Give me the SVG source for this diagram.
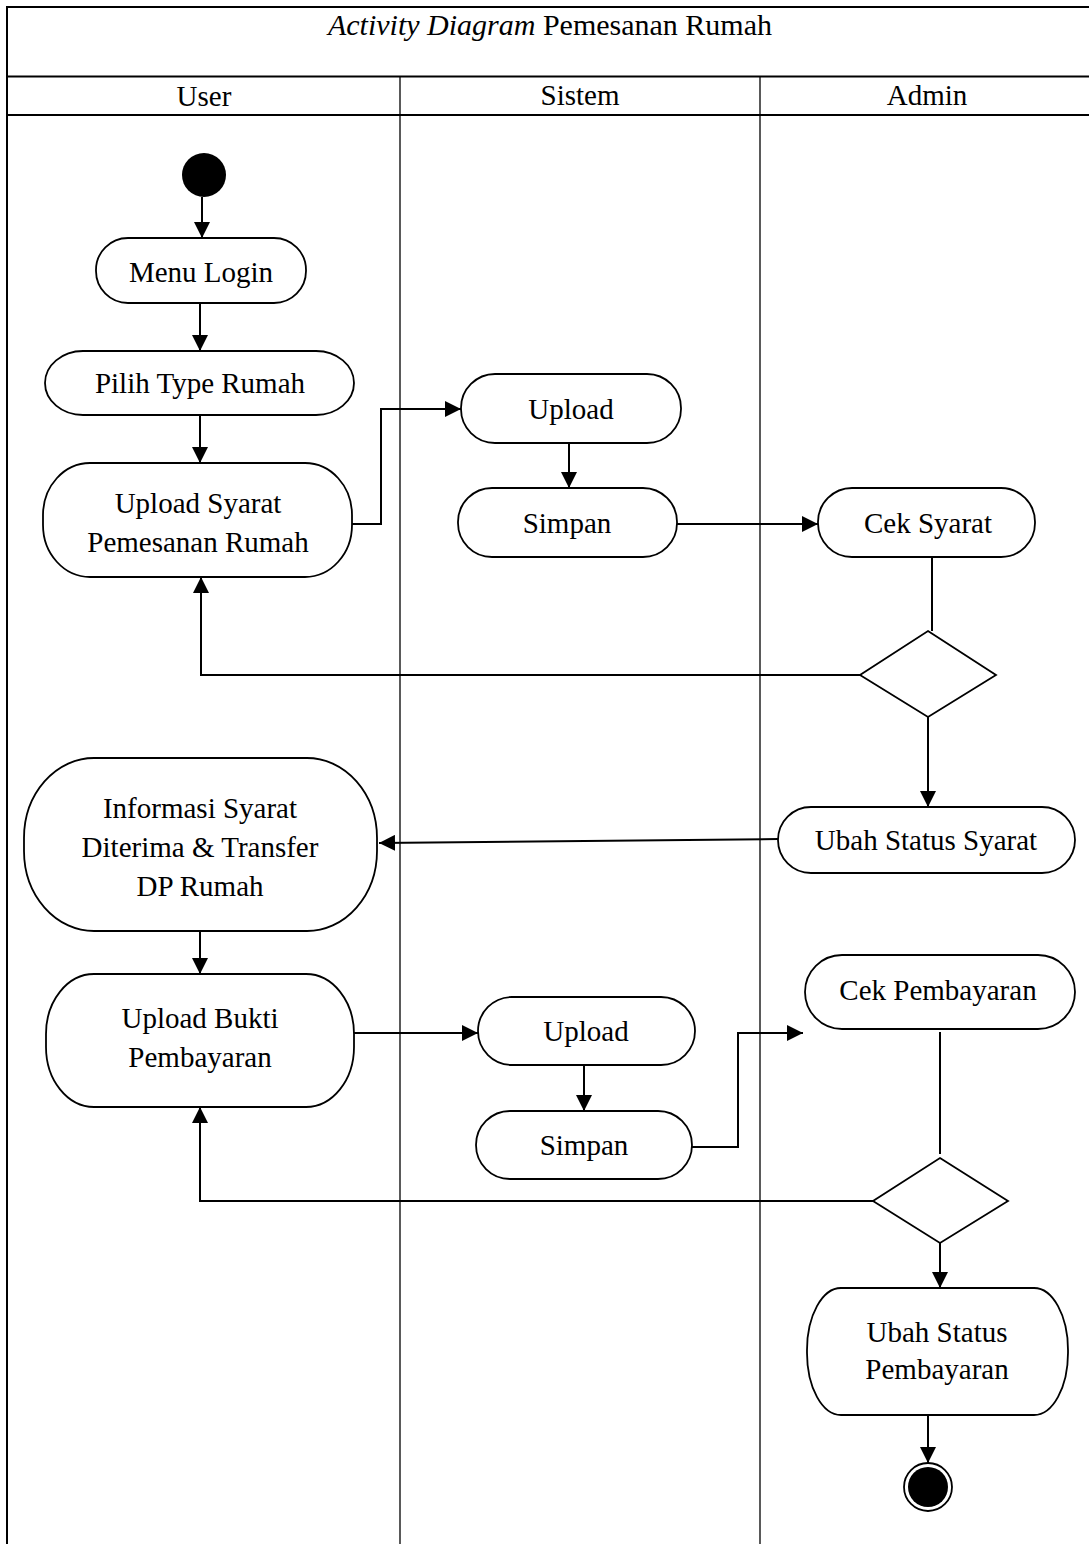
<svg xmlns="http://www.w3.org/2000/svg" width="1089" height="1544" viewBox="0 0 1089 1544">
  <defs>
    <marker id="arrow" markerUnits="userSpaceOnUse" markerWidth="16" markerHeight="16" refX="16" refY="8" orient="auto">
      <path d="M0,0 L16,8 L0,16 Z" fill="#000"/>
    </marker>
    <style>
      .frame { stroke: #000; stroke-width: 2; fill: none; }
      .lane { stroke: #000; stroke-width: 1.3; fill: none; }
      .node { fill: #fff; stroke: #000; stroke-width: 1.8; }
      .edge { fill: none; stroke: #000; stroke-width: 2; }
      .arr { marker-end: url(#arrow); }
      text { font-family: "Liberation Serif", "Times New Roman", serif; font-size: 29px; fill: #000; text-anchor: middle; }
      .title { font-size: 30px; }
    </style>
  </defs>
  <rect width="1089" height="1544" fill="#fff"/>

  <!-- swimlane frame -->
  <g id="swimlanes">
    <line class="frame" x1="6" y1="7" x2="1089" y2="7"/>
    <line class="frame" x1="7" y1="6" x2="7" y2="1544"/>
    <line class="frame" x1="6" y1="76.5" x2="1089" y2="76.5"/>
    <line class="frame" x1="6" y1="115" x2="1089" y2="115"/>
    <line class="lane" x1="400" y1="77" x2="400" y2="1544"/>
    <line class="lane" x1="760" y1="77" x2="760" y2="1544"/>
    <text class="title" x="550" y="35"><tspan font-style="italic">Activity Diagram</tspan> Pemesanan Rumah</text>
    <text x="204" y="106">User</text>
    <text x="580" y="105">Sistem</text>
    <text x="927" y="105">Admin</text>
  </g>

  <!-- connectors -->
  <g id="connectors">
    <line class="edge arr" x1="202" y1="197" x2="202" y2="238"/>
    <line class="edge arr" x1="200" y1="303" x2="200" y2="351"/>
    <line class="edge arr" x1="200" y1="415" x2="200" y2="463"/>
    <path class="edge arr" d="M352,524 H381 V409 H461"/>
    <line class="edge arr" x1="569" y1="443" x2="569" y2="488"/>
    <line class="edge arr" x1="677" y1="524" x2="818" y2="524"/>
    <line class="edge" x1="932" y1="557" x2="932" y2="631"/>
    <path class="edge arr" d="M860,675 H201 V577"/>
    <line class="edge arr" x1="928" y1="717" x2="928" y2="807"/>
    <line class="edge arr" x1="778" y1="839" x2="379" y2="843"/>
    <line class="edge arr" x1="200" y1="931" x2="200" y2="974"/>
    <line class="edge arr" x1="354" y1="1033" x2="478" y2="1033"/>
    <line class="edge arr" x1="584" y1="1065" x2="584" y2="1111"/>
    <path class="edge arr" d="M692,1147 H738 V1033 H803"/>
    <line class="edge" x1="940" y1="1032" x2="940" y2="1154"/>
    <path class="edge arr" d="M873,1201 H200 V1107"/>
    <line class="edge arr" x1="940" y1="1243" x2="940" y2="1288"/>
    <line class="edge arr" x1="928" y1="1415" x2="928" y2="1463"/>
  </g>

  <!-- user lane -->
  <g id="start">
    <circle cx="204" cy="175" r="22" fill="#000"/>
  </g>
  <g id="menu-login">
    <rect class="node" x="96" y="238" width="210" height="65" rx="32" ry="32"/>
    <text x="201" y="282">Menu Login</text>
  </g>
  <g id="pilih-type-rumah">
    <rect class="node" x="45" y="351" width="309" height="64" rx="38" ry="32"/>
    <text x="200" y="393">Pilih Type Rumah</text>
  </g>
  <g id="upload-syarat">
    <rect class="node" x="43" y="463" width="309" height="114" rx="47" ry="52"/>
    <text x="198" y="513">Upload Syarat</text>
    <text x="198" y="552">Pemesanan Rumah</text>
  </g>
  <g id="informasi-syarat">
    <rect class="node" x="24" y="758" width="353" height="173" rx="70" ry="80"/>
    <text x="200" y="818">Informasi Syarat</text>
    <text x="200" y="857">Diterima &amp; Transfer</text>
    <text x="200" y="896">DP Rumah</text>
  </g>
  <g id="upload-bukti">
    <rect class="node" x="46" y="974" width="308" height="133" rx="48" ry="60"/>
    <text x="200" y="1028">Upload Bukti</text>
    <text x="200" y="1067">Pembayaran</text>
  </g>

  <!-- sistem lane -->
  <g id="upload-1">
    <rect class="node" x="461" y="374" width="220" height="69" rx="34" ry="34"/>
    <text x="571" y="419">Upload</text>
  </g>
  <g id="simpan-1">
    <rect class="node" x="458" y="488" width="219" height="69" rx="34" ry="34"/>
    <text x="567" y="533">Simpan</text>
  </g>
  <g id="upload-2">
    <rect class="node" x="478" y="997" width="217" height="68" rx="34" ry="34"/>
    <text x="586" y="1041">Upload</text>
  </g>
  <g id="simpan-2">
    <rect class="node" x="476" y="1111" width="216" height="68" rx="34" ry="34"/>
    <text x="584" y="1155">Simpan</text>
  </g>

  <!-- admin lane -->
  <g id="cek-syarat">
    <rect class="node" x="818" y="488" width="217" height="69" rx="34" ry="34"/>
    <text x="928" y="533">Cek Syarat</text>
  </g>
  <g id="decision-syarat">
    <polygon class="node" points="928,631 996,675 928,717 860,675"/>
  </g>
  <g id="ubah-status-syarat">
    <rect class="node" x="778" y="807" width="297" height="66" rx="33" ry="33"/>
    <text x="926" y="850">Ubah Status Syarat</text>
  </g>
  <g id="cek-pembayaran">
    <rect class="node" x="805" y="955" width="270" height="74" rx="37" ry="37"/>
    <text x="938" y="1000">Cek Pembayaran</text>
  </g>
  <g id="decision-pembayaran">
    <polygon class="node" points="940,1158 1008,1201 940,1243 873,1201"/>
  </g>
  <g id="ubah-status-pembayaran">
    <rect class="node" x="807" y="1288" width="261" height="127" rx="34" ry="62"/>
    <text x="937" y="1342">Ubah Status</text>
    <text x="937" y="1379">Pembayaran</text>
  </g>
  <g id="end">
    <circle cx="928" cy="1487" r="24" fill="#fff" stroke="#000" stroke-width="1.8"/>
    <circle cx="928" cy="1487" r="20" fill="#000"/>
  </g>
</svg>
